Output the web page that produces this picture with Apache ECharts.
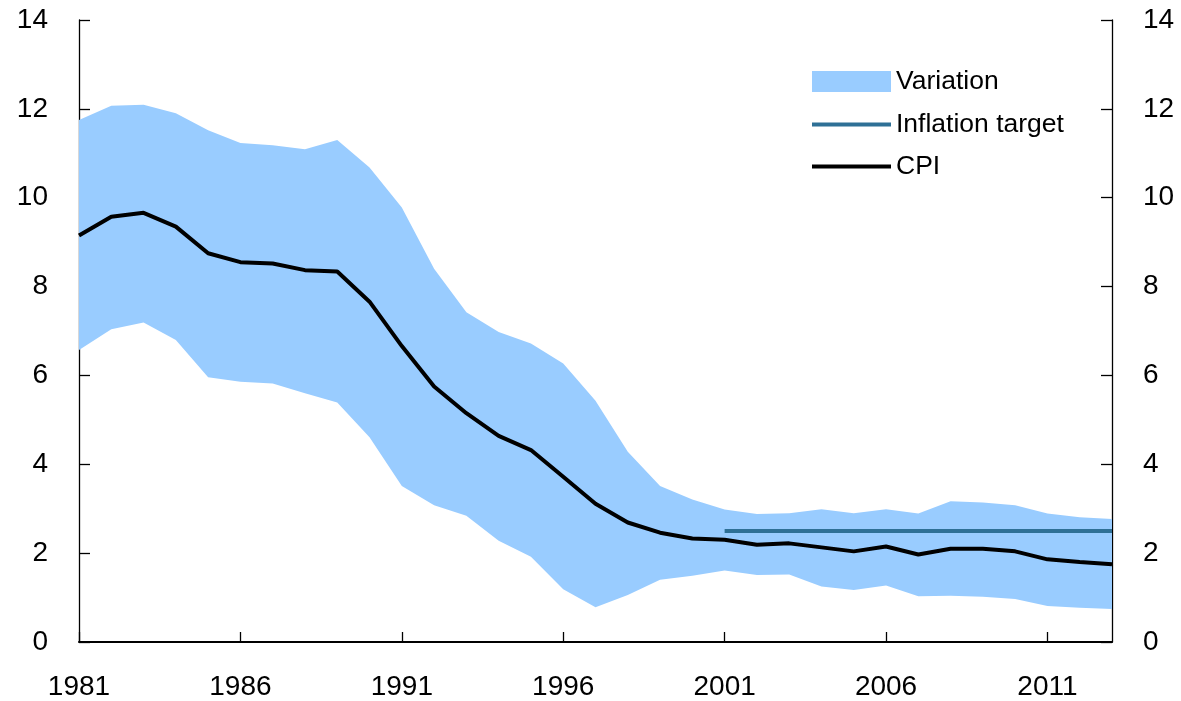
<!DOCTYPE html>
<html>
<head>
<meta charset="utf-8">
<title>CPI variation</title>
<script src="https://cdn.jsdelivr.net/npm/echarts@6/dist/echarts.min.js"></script>
<style>
    html, body { margin: 0; padding: 0; background: #fff; }
    #main { width: 1181px; height: 701px; }
</style>
</head>
<body>
<div id="main"></div>
<script>
// years on x axis
var years = [];
for (var y = 1981; y <= 2013; y++) {
    years.push(String(y));
}

// CPI
var cpi = [9.15, 9.57, 9.66, 9.35, 8.75, 8.55, 8.52, 8.37, 8.34, 7.66, 6.66,
    5.75, 5.15, 4.64, 4.32, 3.72, 3.11, 2.69, 2.46, 2.33, 2.30,
    2.19, 2.22, 2.13, 2.04, 2.15, 1.97, 2.10, 2.10, 2.04, 1.86, 1.80, 1.75];

// upper and lower edge of the variation band
var bandHigh = [11.75, 12.07, 12.09, 11.90, 11.52, 11.23, 11.18, 11.09, 11.30, 10.68, 9.78,
    8.40, 7.42, 6.98, 6.72, 6.27, 5.43, 4.28, 3.51, 3.21, 2.98,
    2.88, 2.90, 2.99, 2.90, 2.99, 2.89, 3.17, 3.14, 3.08, 2.89, 2.81, 2.77];
var bandLow = [6.57, 7.04, 7.19, 6.80, 5.96, 5.86, 5.82, 5.60, 5.39, 4.61, 3.51,
    3.08, 2.84, 2.28, 1.92, 1.19, 0.78, 1.06, 1.40, 1.49, 1.61,
    1.51, 1.52, 1.25, 1.17, 1.27, 1.03, 1.04, 1.02, 0.97, 0.81, 0.77, 0.74];

// inflation target from 2001
var target = [null, null, null, null, null, null, null, null, null, null, null,
    null, null, null, null, null, null, null, null, null, 2.5,
    2.5, 2.5, 2.5, 2.5, 2.5, 2.5, 2.5, 2.5, 2.5, 2.5, 2.5, 2.5];

var yTicks = [0, 2, 4, 6, 8, 10, 12, 14];

var bandColor = '#99ccff';
var targetColor = '#2e7096';
var fontName = 'Liberation Sans';
var tickFont = 28;
var legendFont = 26.5;

// band thickness for the stacked area
var bandWidth = bandHigh.map(function (v, i) {
    return +(v - bandLow[i]).toFixed(2);
});

function valueAxis(pos) {
    return {
        type: 'value',
        position: pos,
        min: yTicks[0],
        max: yTicks[yTicks.length - 1],
        interval: 2,
        axisLine: {show: true, lineStyle: {color: '#000', width: 1.3}},
        axisTick: {show: true, inside: true, length: 11, lineStyle: {color: '#000', width: 1.3}},
        axisLabel: {
            color: '#000', fontSize: tickFont, fontFamily: fontName, margin: 31
        },
        splitLine: {show: false}
    };
}

function legendAt(name, top, h, icon) {
    return {
        left: 812,
        top: top,
        padding: 0,
        selectedMode: false,
        data: [{name: name, icon: icon}],
        itemWidth: 79,
        itemHeight: h,
        textStyle: {color: '#000', fontSize: legendFont, fontFamily: fontName}
    };
}

var myChart = echarts.init(document.getElementById('main'));
var option = {
    backgroundColor: '#fff',
    animation: false,
    grid: {left: 79, right: 69, top: 20, bottom: 59},
    legend: [
        legendAt('Variation', 68, 21, 'rect'),
        legendAt('Inflation target', 111, 4, 'rect'),
        legendAt('CPI', 153, 4, 'rect')
    ],
    xAxis: {
        type: 'category',
        data: years,
        boundaryGap: false,
        axisLine: {show: true, lineStyle: {color: '#000', width: 2}},
        axisTick: {show: true, inside: true, length: 10, interval: 4, lineStyle: {color: '#000', width: 1.3}},
        axisLabel: {
            interval: 4, color: '#000', fontSize: tickFont, fontFamily: fontName, margin: 31
        },
        splitLine: {show: false}
    },
    yAxis: [valueAxis('left'), valueAxis('right')],
    series: [
        {
            name: 'bandBase',
            type: 'line',
            stack: 'band',
            data: bandLow,
            symbol: 'none',
            lineStyle: {opacity: 0},
            silent: true,
            z: 1
        },
        {
            name: 'Variation',
            type: 'line',
            stack: 'band',
            data: bandWidth,
            symbol: 'none',
            color: bandColor,
            lineStyle: {opacity: 0},
            areaStyle: {color: bandColor, opacity: 1},
            z: 1
        },
        {
            name: 'Inflation target',
            type: 'line',
            data: target,
            symbol: 'none',
            color: targetColor,
            lineStyle: {color: targetColor, width: 4},
            z: 3
        },
        {
            name: 'CPI',
            type: 'line',
            data: cpi,
            symbol: 'none',
            color: '#000',
            lineStyle: {color: '#000', width: 4},
            z: 4
        }
    ]
};
myChart.setOption(option);
</script>
</body>
</html>
